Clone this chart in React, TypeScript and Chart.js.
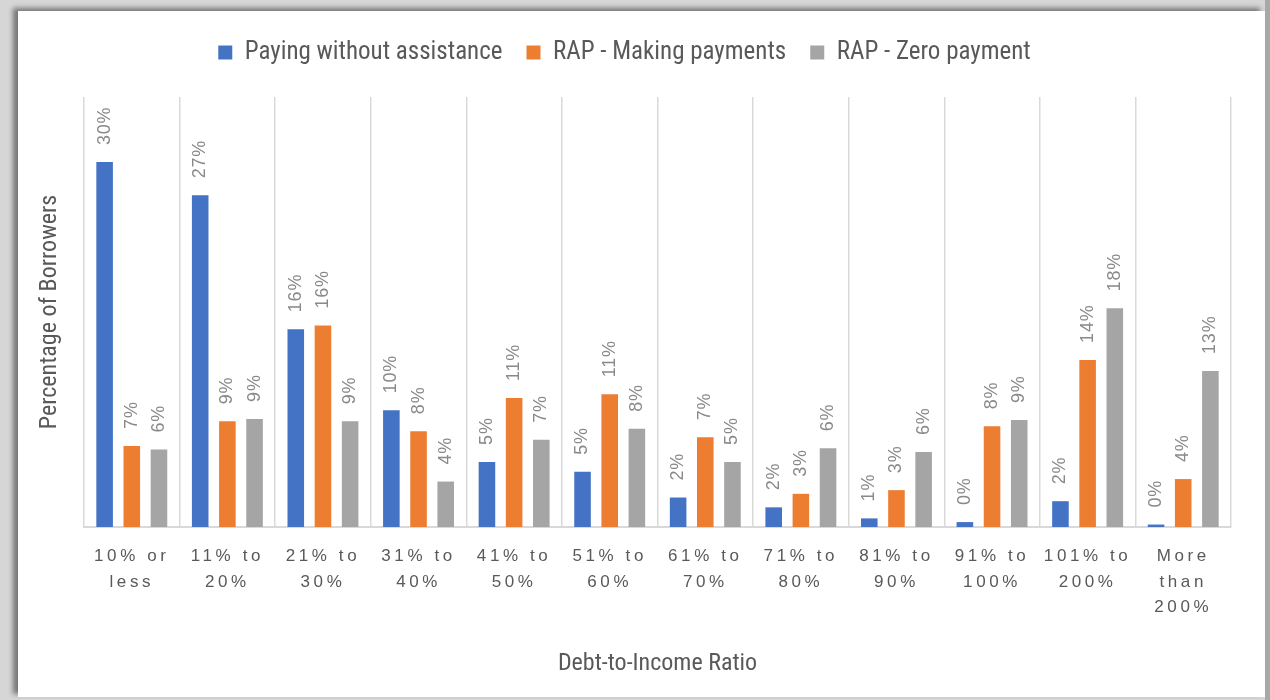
import React, { useEffect, useRef } from "react";
import { Chart, registerables, CategoryScale } from "chart.js";

Chart.register(...registerables);

class SpacedCategoryScale extends CategoryScale {
  static id = "spacedCategory";
  drawLabels(chartArea: any) {
    const ctx: any = this.ctx;
    ctx.save();
    ctx.letterSpacing = "3.6px";
    super.drawLabels(chartArea);
    ctx.restore();
  }
}
Chart.register(SpacedCategoryScale as any);

const categories: string[][] = [
  ["10% or", "less"],
  ["11% to", "20%"],
  ["21% to", "30%"],
  ["31% to", "40%"],
  ["41% to", "50%"],
  ["51% to", "60%"],
  ["61% to", "70%"],
  ["71% to", "80%"],
  ["81% to", "90%"],
  ["91% to", "100%"],
  ["101% to", "200%"],
  ["More", "than", "200%"],
];

const payingWithoutAssistance = [29.7, 27.0, 16.1, 9.5, 5.3, 4.5, 2.4, 1.6, 0.7, 0.4, 2.1, 0.2];
const rapMakingPayments = [6.6, 8.6, 16.4, 7.8, 10.5, 10.8, 7.3, 2.7, 3.0, 8.2, 13.6, 3.9];
const rapZeroPayment = [6.3, 8.8, 8.6, 3.7, 7.1, 8.0, 5.3, 6.4, 6.1, 8.7, 17.8, 12.7];

const seriesNames = ["Paying without assistance", "RAP - Making payments", "RAP - Zero payment"];
const seriesColors = ["#4472C4", "#ED7D31", "#A5A5A5"];

const NARROW = '"Liberation Sans Narrow", "Roboto Condensed", Roboto, sans-serif';
const REGULAR = '"Liberation Sans", Arial, sans-serif';

const dataLabelPlugin = {
  id: "rotatedLabels",
  afterDatasetsDraw(chart: any) {
    const ctx = chart.ctx;
    chart.data.datasets.forEach((ds: any, i: number) => {
      const meta = chart.getDatasetMeta(i);
      meta.data.forEach((bar: any, j: number) => {
        const v = ds.data[j];
        ctx.save();
        ctx.translate(bar.x, bar.y - 17);
        ctx.rotate(-Math.PI / 2);
        ctx.font = `18px ${REGULAR}`;
        ctx.letterSpacing = "0.8px";
        ctx.fillStyle = "#898989";
        ctx.textAlign = "left";
        ctx.textBaseline = "middle";
        ctx.fillText(Math.round(v) + "%", 0, 0);
        ctx.restore();
      });
    });
  },
};

export default function App() {
  const ref = useRef<HTMLCanvasElement | null>(null);
  useEffect(() => {
    if (!ref.current) return;
    const data = [payingWithoutAssistance, rapMakingPayments, rapZeroPayment];
    const chart = new Chart(ref.current, {
      type: "bar",
      data: {
        labels: categories as any,
        datasets: seriesNames.map((name, i) => ({
          label: name,
          data: data[i],
          backgroundColor: seriesColors[i],
          borderWidth: 0,
          categoryPercentage: 0.853,
          barPercentage: 0.61,
        })),
      },
      options: {
        responsive: false,
        animation: false,
        maintainAspectRatio: false,
        layout: { padding: { left: 0, right: 34, top: 5, bottom: 0 } },
        plugins: {
          legend: {
            position: "top",
            labels: {
              boxWidth: 14,
              boxHeight: 14,
              padding: 24,
              color: "#595959",
              font: { family: NARROW, size: 25 },
            },
          },
          tooltip: { enabled: false },
        },
        scales: {
          x: {
            type: "spacedCategory" as any,
            position: "bottom",
            grid: { display: true, offset: true, color: "#D9D9D9", lineWidth: 1.5, drawTicks: false },
            border: { display: true, color: "#D9D9D9", width: 2 },
            ticks: {
              color: "#595959",
              font: { family: REGULAR, size: 17, lineHeight: 1.5 },
              padding: 17,
              maxRotation: 0,
              autoSkip: false,
            },
            title: {
              display: true,
              text: "Debt-to-Income Ratio",
              color: "#595959",
              font: { family: NARROW, size: 24 },
              padding: { top: 0, bottom: 19 },
            },
            afterFit: (s: any) => {
              s.height = 170;
            },
          },
          xTop: {
            type: "category",
            position: "top",
            display: true,
            grid: { display: false },
            border: { display: false },
            ticks: { display: false },
            afterFit: (s: any) => {
              s.height = 22;
            },
          },
          y: {
            min: 0,
            max: 35,
            display: true,
            grid: { display: false },
            border: { display: false },
            ticks: { display: false },
            title: {
              display: true,
              text: "Percentage of Borrowers",
              color: "#595959",
              font: { family: NARROW, size: 24 },
              padding: { top: 18, bottom: 0 },
            },
            afterFit: (s: any) => {
              s.width = 66;
            },
          },
        },
      },
      plugins: [dataLabelPlugin],
    } as any);
    return () => chart.destroy();
  }, []);

  return (
    <div style={{ position: "fixed", left: 0, top: 0, width: 1270, height: 700, background: "#D6D6D6", overflow: "hidden" }}>
      <div style={{ position: "absolute", left: 1265, top: 0, width: 5, height: 700, background: "#A8A8A8" }} />
      <div
        style={{
          position: "absolute",
          left: 18,
          top: 11,
          width: 1247,
          height: 686,
          background: "#FFFFFF",
          boxShadow: "-5px -3px 5px rgba(0,0,0,0.45)",
        }}
      >
        <canvas ref={ref} width={1247} height={686} style={{ display: "block" }} />
      </div>
    </div>
  );
}
